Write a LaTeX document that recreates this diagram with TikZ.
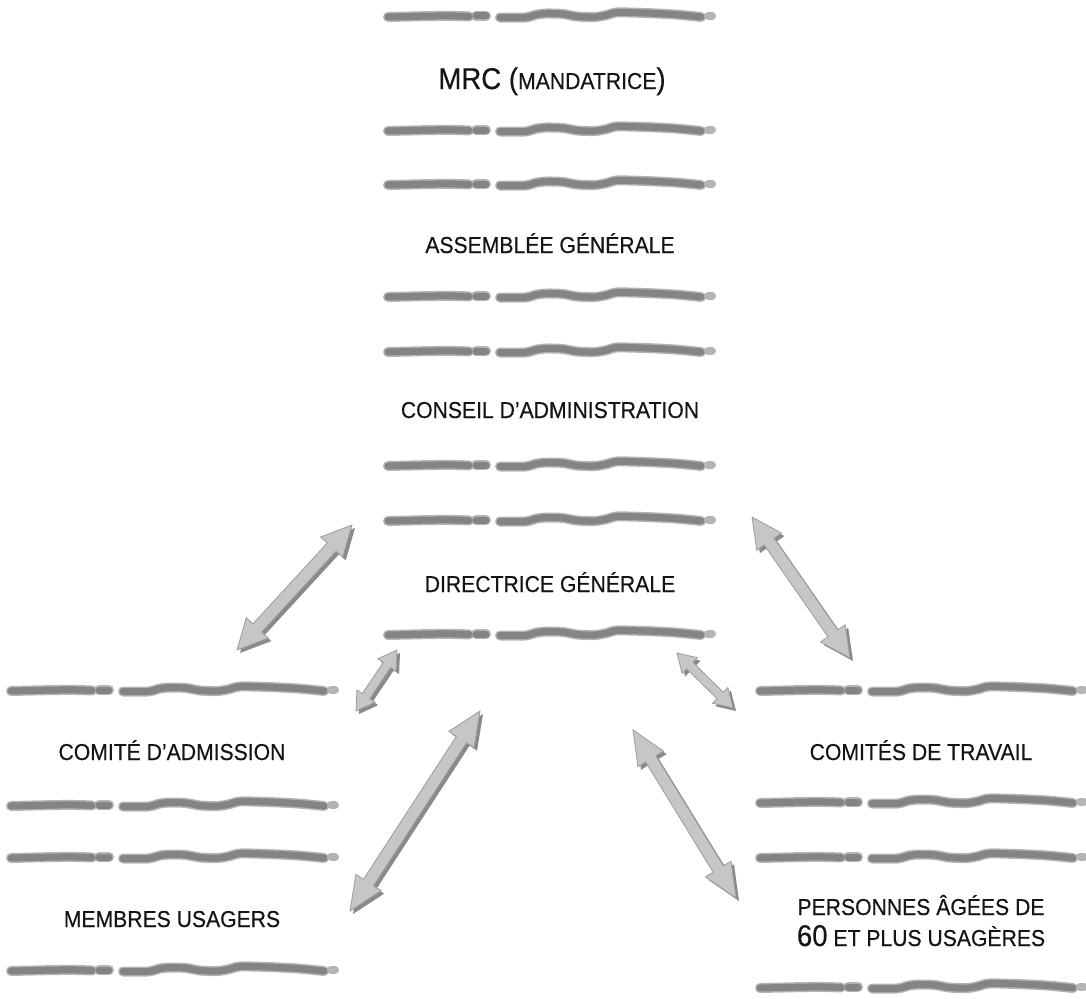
\documentclass[tikz,border=0pt]{standalone}
\usepackage{fontspec}
\setmainfont{Liberation Sans}[FakeStretch=0.92,FakeBold=0.4]
\usetikzlibrary{calc}
\definecolor{barcore}{HTML}{848484}
\definecolor{barhalo}{HTML}{B4B4B4}
\definecolor{arrfill}{HTML}{C6C6C6}
\definecolor{arredge}{HTML}{9C9C9C}
\definecolor{arrshade}{HTML}{8A8A8A}
\definecolor{txt}{HTML}{141414}
\newcommand\smc[1]{{\fontsize{23}{31}\selectfont #1}}
\newcommand\bgc[1]{{\fontsize{30}{34}\selectfont #1}}
\newcommand\blockarr[5]{%
  \coordinate (tmpA) at ($(#1)+(3,3)$);
  \coordinate (tmpB) at ($(#2)+(3,3)$);
  \fill[arrshade] (tmpA) -- ($(tmpA)!#5!(tmpB)!#4!90:(tmpB)$) -- ($(tmpA)!#5!(tmpB)!#3!90:(tmpB)$)
    -- ($(tmpB)!#5!(tmpA)!#3!-90:(tmpA)$) -- ($(tmpB)!#5!(tmpA)!#4!-90:(tmpA)$) -- (tmpB)
    -- ($(tmpB)!#5!(tmpA)!#4!90:(tmpA)$) -- ($(tmpB)!#5!(tmpA)!#3!90:(tmpA)$)
    -- ($(tmpA)!#5!(tmpB)!#3!-90:(tmpB)$) -- ($(tmpA)!#5!(tmpB)!#4!-90:(tmpB)$) -- cycle;
  \filldraw[fill=arrfill, draw=arredge, line width=0.8pt, line join=miter]
    (#1) -- ($(#1)!#5!(#2)!#4!90:(#2)$) -- ($(#1)!#5!(#2)!#3!90:(#2)$)
    -- ($(#2)!#5!(#1)!#3!-90:(#1)$) -- ($(#2)!#5!(#1)!#4!-90:(#1)$) -- (#2)
    -- ($(#2)!#5!(#1)!#4!90:(#1)$) -- ($(#2)!#5!(#1)!#3!90:(#1)$)
    -- ($(#1)!#5!(#2)!#3!-90:(#2)$) -- ($(#1)!#5!(#2)!#4!-90:(#2)$) -- cycle;
}
\tikzset{
  brushbar/.pic={
    \foreach \lw/\cl in {10/barhalo,7/barcore}{
      \draw[line width=\lw pt, color=\cl, line cap=round] plot[smooth] coordinates {(3,1) (25,0.5) (50,0) (70,0) (84,0.5)};
      \draw[line width=\lw pt, color=\cl, line cap=round] (91,0) -- (101,0);
      \draw[line width=\lw pt, color=\cl, line cap=round] plot[smooth] coordinates {(115,1.5) (140,1.5) (152,-1.5) (162,-2.5) (178,-2) (192,0.5) (210,1) (222,-1) (232,-3.5) (260,-3) (290,-1.5) (316,1)};
    }
    \draw[line width=8pt, color=barhalo, line cap=round] (323,0) -- (327,0);
  },
  lbl/.style={inner sep=0pt, text=txt, anchor=base, font=\fontsize{23}{31}\selectfont}
}
\begin{document}
\begin{tikzpicture}[x=1pt,y=-1pt]
\useasboundingbox (0,0) rectangle (1086,998);
% bars, centre column
\foreach \yy in {16,130,184,296,351,465,520,634} { \pic at (385,\yy) {brushbar}; }
% bars, left column
\foreach \yy in {690,805,857,970} { \pic at (8,\yy) {brushbar}; }
% bars, right column
\foreach \yy in {690,802,857,987} { \pic at (757,\yy) {brushbar}; }
% labels
\node[lbl] (mrc) at (552,89) {\bgc{MRC (}\smc{MANDATRICE}\bgc{)}};
\node[lbl] (ag) at (550,253) {ASSEMBLÉE GÉNÉRALE};
\node[lbl] (ca) at (550,418) {CONSEIL D’ADMINISTRATION};
\node[lbl] (dg) at (550,592) {DIRECTRICE GÉNÉRALE};
\node[lbl] (cad) at (172,760) {COMITÉ D’ADMISSION};
\node[lbl] (ctr) at (921,760) {COMITÉS DE TRAVAIL};
\node[lbl] (mu) at (172,927) {MEMBRES USAGERS};
\node[lbl] (pa) at (921,915) {\begin{tabular}[t]{@{}c@{}}PERSONNES ÂGÉES DE\\\bgc{60} ET PLUS USAGÈRES\end{tabular}};
% arrow end points
\coordinate (a1s) at (352,525); \coordinate (a1e) at (237,650);
\coordinate (a2s) at (752,517); \coordinate (a2e) at (850,658);
\coordinate (a3s) at (397,650); \coordinate (a3e) at (356,711);
\coordinate (a4s) at (677,653); \coordinate (a4e) at (733,708);
\coordinate (a5s) at (480,711); \coordinate (a5e) at (350,911);
\coordinate (a6s) at (633,730); \coordinate (a6e) at (736,898);
\blockarr{a1s}{a1e}{6pt}{15pt}{30pt}
\blockarr{a2s}{a2e}{6pt}{15pt}{30pt}
\blockarr{a3s}{a3e}{4.5pt}{11pt}{18pt}
\blockarr{a4s}{a4e}{4.5pt}{11pt}{18pt}
\blockarr{a5s}{a5e}{6pt}{15pt}{34pt}
\blockarr{a6s}{a6e}{6pt}{15pt}{34pt}
\end{tikzpicture}
\end{document}
